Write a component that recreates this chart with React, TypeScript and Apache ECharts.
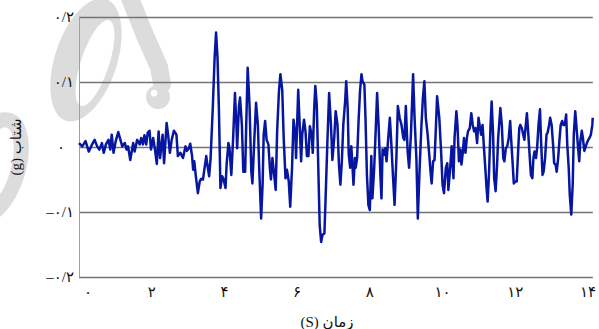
import React, { useEffect, useRef } from "react";
import * as echarts from "echarts";

// time (s)
const times = [
  0.00, 0.09, 0.18, 0.27, 0.36, 0.43, 0.50, 0.56, 0.63, 0.68, 0.74, 0.81, 0.86, 0.90, 0.95, 1.01, 1.08, 1.14, 1.19, 1.26,
  1.31, 1.35, 1.41, 1.49, 1.53, 1.60, 1.67, 1.71, 1.76, 1.80, 1.85, 1.89, 1.94, 1.98, 2.04, 2.09, 2.14, 2.19, 2.23, 2.30,
  2.34, 2.41, 2.45, 2.50, 2.55, 2.61, 2.68, 2.72, 2.79, 2.86, 2.93,
  2.97, 3.02, 3.06, 3.11, 3.14, 3.17, 3.22, 3.27, 3.32, 3.36, 3.41, 3.44, 3.50, 3.53, 3.58, 3.62, 3.68, 3.73, 3.77, 3.81,
  3.85, 3.89, 3.94, 3.98, 4.03, 4.06, 4.11, 4.14, 4.19, 4.24, 4.29, 4.33, 4.35, 4.40, 4.43, 4.48, 4.52, 4.57, 4.60, 4.64,
  4.69, 4.74, 4.77, 4.82, 4.87, 4.92, 4.96, 5.01, 5.05, 5.08, 5.12, 5.16, 5.21, 5.25, 5.28, 5.32, 5.36, 5.41, 5.45, 5.50,
  5.54, 5.59, 5.63, 5.68, 5.72, 5.77, 5.81, 5.86, 5.90, 5.95,
  5.97, 6.03, 6.07, 6.11, 6.14, 6.19, 6.23, 6.27, 6.31, 6.35, 6.40, 6.43, 6.47, 6.50, 6.54, 6.58, 6.62, 6.66, 6.70, 6.75,
  6.78, 6.83, 6.88, 6.93, 6.97, 7.02, 7.06, 7.11, 7.15, 7.19, 7.23, 7.27, 7.32, 7.35, 7.39, 7.42, 7.46, 7.49, 7.52, 7.55,
  7.59, 7.61, 7.65, 7.69, 7.73, 7.77, 7.80, 7.85, 7.88, 7.92, 7.96, 8.00, 8.04, 8.07, 8.12, 8.16, 8.20, 8.24, 8.29, 8.32,
  8.35, 8.39, 8.42, 8.46, 8.50, 8.55, 8.59, 8.64, 8.68, 8.73, 8.77, 8.82, 8.87, 8.92,
  8.95, 8.99, 9.04, 9.08, 9.13, 9.19, 9.23, 9.28, 9.32, 9.37, 9.42, 9.46, 9.50, 9.54, 9.59, 9.62, 9.67, 9.70, 9.74, 9.78,
  9.82, 9.85, 9.91, 9.96, 10.00, 10.04, 10.09, 10.13, 10.16, 10.21, 10.25, 10.30, 10.33, 10.38, 10.41, 10.45, 10.49, 10.52,
  10.56, 10.59, 10.63, 10.67, 10.70, 10.75, 10.79, 10.83, 10.87, 10.91, 10.95, 10.99, 11.03, 11.06, 11.10, 11.14, 11.17,
  11.21, 11.24, 11.28, 11.32, 11.35, 11.39, 11.42, 11.46, 11.50, 11.53,
  11.59, 11.63, 11.67, 11.70, 11.74, 11.78, 11.82, 11.86, 11.89, 11.93, 11.96, 12.00, 12.04, 12.07, 12.11, 12.14, 12.18,
  12.22, 12.25, 12.29, 12.32, 12.36, 12.40, 12.43, 12.47, 12.50, 12.53, 12.57, 12.60, 12.64, 12.68, 12.71, 12.75, 12.78,
  12.82, 12.86, 12.89, 12.93, 12.96, 13.00, 13.04, 13.07, 13.11, 13.14, 13.18, 13.22, 13.25, 13.29, 13.32, 13.36, 13.40,
  13.43, 13.47, 13.50, 13.54, 13.58, 13.61, 13.65, 13.68, 13.72, 13.76, 13.79, 13.83, 13.86, 13.90, 13.94, 13.97, 14.01,
  14.04, 14.08, 14.12, 14.13,
];

// acceleration (g)
const accel = [
  0.006, 0.001, 0.009, -0.007, 0.004, 0.011, 0.001, -0.004, 0.006, -0.009, 0.004, 0.011, -0.004, 0.019, -0.009, 0.009, 0.023, 0.011, 0.001, 0.006,
  -0.004, 0.001, -0.020, 0.006, -0.007, 0.011, 0.004, 0.014, 0.004, 0.018, 0.004, 0.022, 0.025, -0.004, 0.014, -0.004, -0.026, 0.024, -0.017, 0.019,
  -0.025, 0.037, 0.019, -0.009, 0.011, 0.025, 0.019, -0.014, -0.009, -0.017, 0.001,
  -0.006, -0.002, 0.005, -0.014, -0.035, -0.022, -0.048, -0.071, -0.053, -0.049, -0.050, -0.038, -0.014, -0.027, -0.045, -0.017, 0.060, 0.137, 0.176, 0.137,
  0.055, -0.063, -0.045, -0.050, -0.063, -0.027, 0.006, -0.002, -0.043, 0.014, 0.083, 0.034, -0.002, 0.063, 0.076, 0.034, -0.038, -0.038, 0.034, 0.122,
  0.065, -0.038, -0.056, 0.009, 0.068, 0.034, -0.038, -0.110, -0.058, 0.019, 0.040, 0.011, 0.004, -0.032, -0.050, -0.017, -0.038, -0.066, 0.024, 0.086,
  0.112, 0.088, 0.014, -0.048, -0.035, -0.053, -0.092, -0.032, 0.042, 0.019,
  -0.017, 0.088, 0.034, -0.022, 0.019, 0.042, 0.024, -0.014, -0.014, 0.032, 0.019, -0.009, 0.060, 0.094, 0.065, -0.027, -0.120, -0.146, -0.135, -0.133,
  -0.084, 0.004, 0.083, 0.034, -0.020, 0.014, 0.055, 0.034, -0.027, -0.058, -0.022, 0.034, 0.070, 0.101, 0.060, -0.012, -0.032, 0.001, -0.027, -0.058,
  -0.017, -0.032, -0.017, 0.040, 0.086, 0.112, 0.101, 0.096, 0.045, -0.043, -0.089, -0.097, -0.014, -0.079, -0.032, 0.024, 0.083, 0.034, -0.043, -0.079,
  -0.004, -0.012, -0.002, -0.022, 0.009, 0.045, 0.006, -0.048, -0.089, -0.017, 0.063, 0.045, 0.034, 0.014,
  0.011, 0.063, -0.007, -0.032, 0.019, 0.112, 0.045, -0.017, -0.110, -0.032, 0.034, 0.076, 0.101, 0.045, 0.019, -0.002, -0.038, -0.056, -0.022, -0.020,
  0.034, 0.078, 0.045, -0.007, -0.058, -0.071, -0.032, -0.025, -0.066, -0.032, 0.001, -0.048, 0.014, 0.055, 0.034, -0.022, -0.004, -0.027,
  -0.007, 0.014, -0.009, 0.014, 0.024, 0.029, 0.052, 0.034, 0.024, 0.029, 0.006, 0.045, 0.029, 0.019, 0.034, -0.002, -0.027,
  -0.063, -0.084, -0.038, 0.034, 0.070, 0.019, -0.048, -0.068, -0.027, 0.014,
  0.060, 0.034, -0.017, -0.022, -0.002, 0.001, 0.014, 0.040, 0.009, -0.027, -0.056, -0.053, -0.053, -0.017, 0.029, 0.034, 0.029,
  0.019, 0.011, 0.034, 0.052, 0.019, -0.017, -0.043, -0.048, -0.017, -0.007, -0.017, -0.002, 0.034, 0.058, 0.009, -0.043, -0.038,
  -0.017, 0.019, 0.022, 0.034, 0.045, 0.034, 0.004, -0.025, -0.027, -0.038, -0.017, 0.014, 0.034, 0.040, 0.034, 0.034, 0.050,
  0.004, -0.032, -0.074, -0.104, -0.058, 0.019, 0.055, 0.034, 0.004, -0.022, 0.009, 0.025, 0.014, -0.006, 0.001, 0.006, 0.011,
  0.014, 0.019, 0.034, 0.045,
];

const xTickValues = [0, 2, 4, 6, 8, 10, 12, 14];
const xTickLabels = ["۰", "۲", "۴", "۶", "۸", "۱۰", "۱۲", "۱۴"];
const yTickValues = [-0.2, -0.1, 0, 0.1, 0.2];
const yTickLabels = ["–۰/۲", "–۰/۱", "۰", "۰/۱", "۰/۲"];

// written in visual (left-to-right) order, as the titles appear on the page
const xAxisTitle = "(S) زمان";
const yAxisTitle = "(g) شتاب";

// visible end of the time axis (the plot continues past the right edge)
const X_MAX = 14.135;

const FONT = "'Liberation Serif', 'DejaVu Sans', serif";
const WM = "#dcdcdc";

function lookup(vals: number[], labels: string[], v: number) {
  const i = vals.findIndex((tv) => Math.abs(tv - v) < 1e-6);
  return i >= 0 ? labels[i] : "";
}

export default function App() {
  const ref = useRef<HTMLDivElement>(null);
  useEffect(() => {
    if (!ref.current) return;
    const chart = echarts.init(ref.current, null, { renderer: "svg" });
    const data = times.map((t, i) => [t, accel[i]]);
    chart.setOption({
      animation: false,
      backgroundColor: "#ffffff",
      grid: { left: 76, top: 17, bottom: 52, right: 0, containLabel: false },
      xAxis: {
        type: "value",
        min: 0,
        max: X_MAX,
        interval: 2,
        axisLine: { show: false },
        axisTick: { show: false },
        splitLine: { show: false },
        axisLabel: {
          margin: 7,
          fontFamily: FONT,
          fontSize: 15,
          color: "#111",
          showMaxLabel: false,
          formatter: (v: number) => {
            const s = lookup(xTickValues, xTickLabels, v);
            if (!s) return "";
            return v === 0 ? "{z|" + s + "}" : s;
          },
          rich: {
            z: { fontFamily: FONT, fontSize: 15, color: "#111", padding: [0, 0, 0, 18] },
          },
        },
      },
      yAxis: {
        type: "value",
        min: -0.2,
        max: 0.2,
        interval: 0.1,
        name: yAxisTitle,
        nameLocation: "middle",
        nameGap: 56,
        nameRotate: 90,
        nameTextStyle: { fontFamily: FONT, fontSize: 15, color: "#111" },
        axisLine: { show: true, lineStyle: { color: "#a0a0a0", width: 1 } },
        axisTick: { show: false },
        splitLine: { show: true, lineStyle: { color: "#747474", width: 1.4 } },
        axisLabel: {
          margin: 5,
          fontFamily: FONT,
          fontSize: 15,
          color: "#111",
          formatter: (v: number) => {
            const s = lookup(yTickValues, yTickLabels, v);
            if (!s) return "";
            return Math.abs(v) < 1e-9 ? "{z|" + s + "}" : s;
          },
          rich: {
            z: { fontFamily: FONT, fontSize: 15, color: "#111", padding: [0, 9, 0, 0] },
          },
        },
      },
      graphic: [
        {
          type: "ellipse",
          z: -10,
          x: 86,
          y: 60,
          rotation: -0.32,
          shape: { cx: 0, cy: 0, rx: 31, ry: 64 },
          style: { fill: WM },
        },
        {
          type: "ellipse",
          z: -9,
          x: 95,
          y: 63,
          rotation: -0.32,
          shape: { cx: 0, cy: 0, rx: 14, ry: 45 },
          style: { fill: "#ffffff" },
        },
        {
          type: "polyline",
          z: -10,
          shape: { points: [[126, -12], [144, 33], [159, 67], [162, 84]] },
          style: { stroke: WM, lineWidth: 18, lineCap: "round", lineJoin: "round", fill: "none" },
        },
        {
          type: "circle",
          z: -10,
          shape: { cx: 158, cy: 97, r: 12 },
          style: { fill: WM },
        },
        {
          type: "circle",
          z: -9,
          shape: { cx: 154, cy: 93, r: 3.5 },
          style: { fill: "#ffffff" },
        },
        {
          type: "ellipse",
          z: -10,
          x: -6,
          y: 168,
          rotation: -0.3,
          shape: { cx: 0, cy: 0, rx: 24, ry: 50 },
          style: { stroke: WM, lineWidth: 15, fill: "none" },
        },
        {
          type: "text",
          z: 10,
          x: 327,
          y: 322,
          style: {
            text: xAxisTitle,
            fontFamily: FONT,
            fontSize: 15,
            fill: "#111",
            align: "center",
            verticalAlign: "middle",
          },
        },
      ],
      series: [
        {
          type: "line",
          data,
          showSymbol: false,
          symbol: "none",
          lineStyle: { color: "#0616a0", width: 2.5, join: "round" },
          z: 5,
        },
      ],
    });
    return () => chart.dispose();
  }, []);
  return (
    <div
      ref={ref}
      style={{ position: "absolute", left: 0, top: 0, width: 599, height: 329 }}
    />
  );
}
